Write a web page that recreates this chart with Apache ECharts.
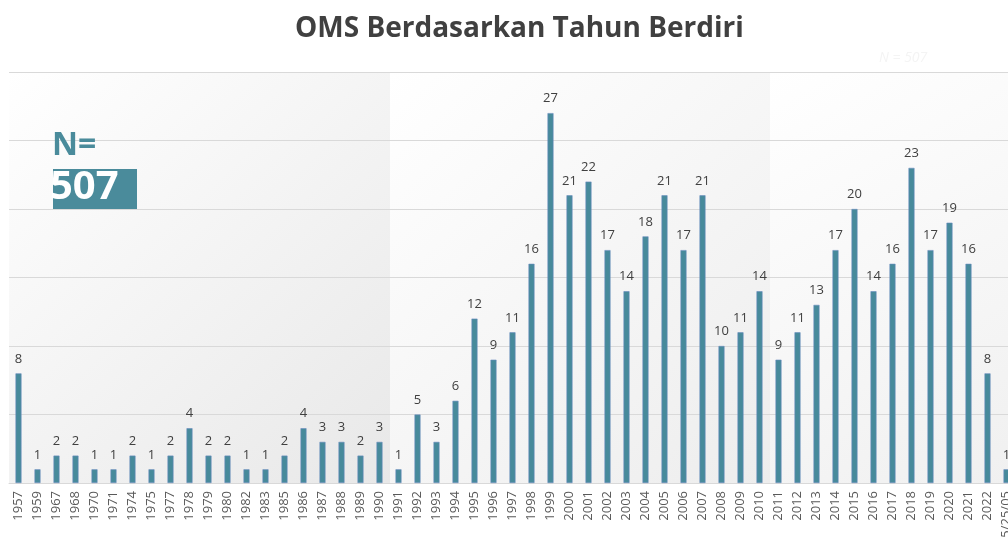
<!DOCTYPE html>
<html>
	<head>
		<meta charset="utf-8">
		<title>OMS Berdasarkan Tahun Berdiri</title>
		<style type="text/css">
			* {
				margin: 0;
				padding: 0;
			}

			#main {
				width: 1008px;
				height: 540px;
				background: #fff;
			}
		</style>
		<script src="https://cdn.jsdelivr.net/npm/echarts@6/dist/echarts.min.js"></script>
	</head>
	<body>
		<div id="main"></div>
	</body>
	<script type="text/javascript">
		// tahun berdiri (kategori)
		var tahun = ['1957', '1959', '1967', '1968', '1970', '1971', '1974', '1975', '1977', '1978',
			'1979', '1980', '1982', '1983', '1985', '1986', '1987', '1988', '1989', '1990', '1991',
			'1992', '1993', '1994', '1995', '1996', '1997', '1998', '1999', '2000', '2001', '2002',
			'2003', '2004', '2005', '2006', '2007', '2008', '2009', '2010', '2011', '2012', '2013',
			'2014', '2015', '2016', '2017', '2018', '2019', '2020', '2021', '2022', '5/25/05'];
		// jumlah OMS per tahun
		var jumlah = [8, 1, 2, 2, 1, 1, 2, 1, 2, 4,
			2, 2, 1, 1, 2, 4, 3, 3, 2, 3, 1,
			5, 3, 6, 12, 9, 11, 16, 27, 21, 22, 17,
			14, 18, 21, 17, 21, 10, 11, 14, 9, 11, 13,
			17, 20, 14, 16, 23, 17, 19, 16, 8, 1];
		var totalN = '507';

		var chart = echarts.init(document.getElementById('main'));

		// latar panel bergradasi di belakang grafik
		function panel(x, w, c2) {
			return {
				type: 'rect',
				z: -10,
				shape: { x: x, y: 72, width: w, height: 411 },
				style: {
					fill: new echarts.graphic.LinearGradient(0, 0, 1, 1, [
						{ offset: 0, color: '#ffffff' },
						{ offset: 1, color: c2 }
					])
				},
				silent: true
			};
		}

		var option = {
			animation: false,
			title: {
				text: 'OMS Berdasarkan Tahun Berdiri',
				left: 290,
				top: 10,
				textStyle: {
					fontFamily: 'Open Sans',
					fontSize: 28,
					fontWeight: 'bold',
					color: '#404040'
				}
			},
			grid: {
				left: 9,
				top: 72,
				width: 1007,
				height: 411,
				outerBoundsMode: 'none'
			},
			graphic: [
				panel(9, 381, '#e8e8e8'),
				panel(390, 380, '#ededed'),
				panel(770, 238, '#f0f0f0'),
				{
					type: 'text',
					left: 879,
					top: 51,
					style: {
						text: 'N = ' + totalN,
						font: 'italic 14px "Open Sans"',
						fill: '#f4f4f4'
					}
				},
				{
					type: 'text',
					left: 52,
					top: 130,
					z: 10,
					style: {
						text: 'N=',
						font: 'bold 32px "Open Sans"',
						fill: '#4a8b9b'
					}
				},
				{
					type: 'rect',
					z: 10,
					shape: { x: 53, y: 169, width: 84, height: 40 },
					style: { fill: '#4a8b9b' }
				},
				{
					type: 'text',
					left: 50,
					top: 168,
					z: 11,
					style: {
						text: totalN,
						font: 'bold 40px "Open Sans"',
						fill: '#ffffff'
					}
				}
			],
			xAxis: {
				type: 'category',
				data: tahun,
				axisTick: { show: false },
				axisLine: { lineStyle: { color: '#d9d9d9', width: 1 } },
				axisLabel: {
					interval: 0,
					rotate: 90,
					margin: 8,
					fontFamily: 'Open Sans',
					fontSize: 13,
					color: '#595959'
				}
			},
			yAxis: {
				type: 'value',
				min: 0,
				max: 30,
				interval: 5,
				axisLabel: { show: false },
				axisLine: { show: false },
				axisTick: { show: false },
				splitLine: { lineStyle: { color: '#d9d9d9', width: 1 } }
			},
			series: [{
				name: 'Jumlah OMS',
				type: 'bar',
				data: jumlah,
				barWidth: 6,
				itemStyle: {
					color: '#478a9b',
					borderColor: '#6a8cc0',
					borderWidth: 0.6
				},
				label: {
					show: true,
					position: 'top',
					distance: 8,
					fontFamily: 'Open Sans',
					fontSize: 13,
					color: '#404040'
				}
			}]
		};
		chart.setOption(option);
	</script>
</html>
